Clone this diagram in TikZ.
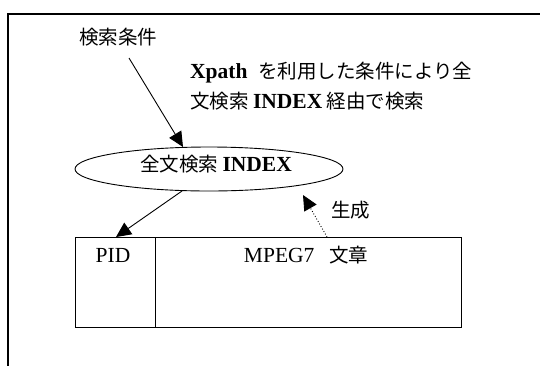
\documentclass[tikz,border=0pt]{standalone}
\usepackage{fontspec}
\setmainfont{Liberation Serif}
\newfontfamily\jp{Noto Sans CJK JP}
\newcommand{\latb}[1]{{\rmfamily\bfseries\fontsize{21.5}{24}\selectfont #1}}
\newcommand{\latr}[1]{{\rmfamily\fontsize{21.5}{24}\selectfont #1}}
\usetikzlibrary{arrows.meta,shapes.geometric}
\tikzset{
  bigarrow/.style={line width=0.9pt,-{Triangle[length=15pt,width=14pt]}},
  cell/.style={draw,line width=0.9pt,anchor=north west,inner sep=0pt,minimum height=90pt},
  jptext/.style={inner sep=0pt,font=\jp\fontsize{19.5}{24}\selectfont}
}
\begin{document}
\begin{tikzpicture}[x=1pt,y=-1pt]
\useasboundingbox (0,0) rectangle (540,365);
% outer frame (only top and left visible)
\draw[line width=1.1pt] (8,366) -- (8,14) -- (541,14);
% condition label
\node[jptext,anchor=west] (cond) at (79,37) {検索条件};
% description
\node[jptext,anchor=west] (desc1) at (190,73) {\latb{Xpath}\hspace{0.55em}を利用した条件により全};
\node[jptext,anchor=west] (desc2) at (190,101) {文検索 \latb{INDEX} 経由で検索};
% index ellipse
\node[ellipse,draw,line width=0.9pt,minimum width=268pt,minimum height=44pt,inner sep=0pt] (idx) at (209,169) {};
\node[jptext] (idxlabel) at (216,164) {全文検索 \latb{INDEX}};
% table
\node[cell,minimum width=80pt] (pid) at (75,237) {};
\node[cell,minimum width=306pt] (doc) at (155,237) {};
\node[inner sep=0pt] (pidlabel) at (113,255) {\latr{PID}};
\node[jptext] (doclabel) at (306,255) {\latr{MPEG7}\hspace{0.75em}文章};
% arrows
\coordinate (a1s) at (129,58);
\coordinate (a1e) at (183,147);
\draw[bigarrow] (a1s) -- (a1e);
\coordinate (a2s) at (182,191);
\coordinate (a2e) at (116,237);
\draw[bigarrow] (a2s) -- (a2e);
\coordinate (a3s) at (327,237);
\coordinate (a3e) at (303,195);
\draw[bigarrow,dotted] (a3s) -- (a3e);
\node[jptext,anchor=west] (gen) at (331,210) {生成};
\end{tikzpicture}
\end{document}
